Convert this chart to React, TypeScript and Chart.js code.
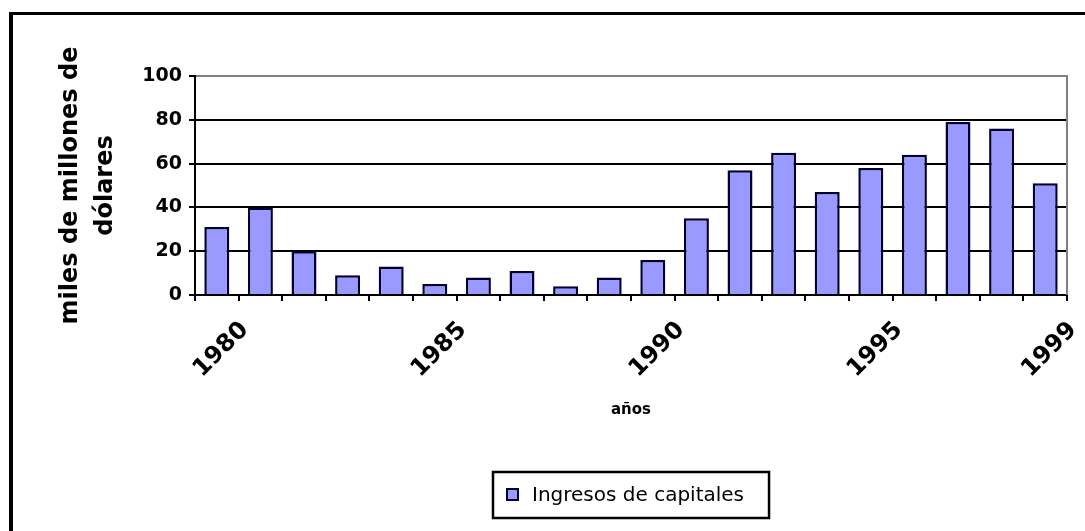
import { useEffect, useRef } from "react";
import { Chart, registerables } from "chart.js";

Chart.register(...registerables);

const years = [
  "1980", "1981", "1982", "1983", "1984", "1985", "1986", "1987", "1988", "1989",
  "1990", "1991", "1992", "1993", "1994", "1995", "1996", "1997", "1998", "1999",
];
const shownYearLabels = ["1980", "1985", "1990", "1995", "1999"];
const capitalInflows = [31, 40, 20, 9, 13, 5, 8, 11, 4, 8, 16, 35, 57, 65, 47, 58, 64, 79, 76, 51];
const seriesLabel = "Ingresos de capitales";
const yAxisTitle = ["miles de millones de", "dólares"];
const xAxisTitle = "años";
const yMin = 0;
const yMax = 100;
const yStep = 20;

const FONT = '"DejaVu Sans", sans-serif';

const excelPlugin = {
  id: "excelLook",
  beforeDatasetsDraw(chart: any) {
    const { ctx, chartArea } = chart;
    ctx.save();
    ctx.strokeStyle = "#808080";
    ctx.lineWidth = 2;
    ctx.beginPath();
    ctx.moveTo(chartArea.right, chartArea.top - 1);
    ctx.lineTo(chartArea.right, chartArea.bottom);
    ctx.stroke();
    ctx.restore();
  },
  afterDraw(chart: any) {
    const { ctx, chartArea } = chart;
    const ds = chart.data.datasets[0];
    ctx.save();
    ctx.font = `20px ${FONT}`;
    const tw = ctx.measureText(ds.label).width;
    const w = 39 + tw + 25;
    const h = 46;
    const cx = (chartArea.left + chartArea.right) / 2;
    const left = Math.round(cx - w / 2);
    const top = Math.round(chartArea.bottom + 177);
    ctx.fillStyle = "#ffffff";
    ctx.fillRect(left, top, w, h);
    ctx.strokeStyle = "#000000";
    ctx.lineWidth = 2.5;
    ctx.strokeRect(left, top, w, h);
    // symbol
    ctx.fillStyle = ds.backgroundColor;
    ctx.fillRect(left + 14, top + 17, 11, 11);
    ctx.strokeStyle = ds.borderColor;
    ctx.lineWidth = 2;
    ctx.strokeRect(left + 14, top + 17, 11, 11);
    ctx.fillStyle = "#000000";
    ctx.textBaseline = "middle";
    ctx.textAlign = "left";
    ctx.fillText(ds.label, left + 39, top + h / 2 + 1);
    ctx.restore();
  },
};

export default function App() {
  const ref = useRef<HTMLCanvasElement>(null);

  useEffect(() => {
    const chart = new Chart(ref.current!, {
      type: "bar",
      data: {
        labels: years,
        datasets: [
          {
            label: seriesLabel,
            data: capitalInflows,
            backgroundColor: "#9999FF",
            borderColor: "#000033",
            borderWidth: 2.5,
            borderSkipped: "bottom",
            barPercentage: 0.573,
            categoryPercentage: 1,
          },
        ],
      },
      options: {
        responsive: false,
        animation: false,
        devicePixelRatio: 1,
        layout: { padding: { left: 0, top: 61, right: 18, bottom: 106 } },
        plugins: {
          legend: { display: false },
          tooltip: { enabled: false },
          title: { display: false },
        },
        scales: {
          x: {
            afterFit: (scale: any) => {
              scale.height = 130;
            },
            grid: {
              display: true,
              drawOnChartArea: false,
              drawTicks: true,
              tickLength: 6,
              color: "#000000",
              lineWidth: 2,
              offset: true,
            },
            border: { display: true, color: "#000000", width: 2 },
            ticks: {
              autoSkip: false,
              minRotation: 45,
              maxRotation: 45,
              padding: 15,
              labelOffset: 28,
              color: "#000000",
              font: { family: FONT, size: 24, weight: "bold" },
              callback: (_v: any, i: number) =>
                shownYearLabels.includes(years[i]) ? years[i] : "",
            },
            title: {
              display: true,
              text: xAxisTitle,
              color: "#000000",
              font: { family: FONT, size: 15, weight: "bold", lineHeight: 1.2 },
              padding: { top: 0, bottom: 6 },
            },
          },
          y: {
            min: yMin,
            max: yMax,
            afterFit: (scale: any) => {
              scale.width = 182;
            },
            grid: {
              color: (c: any) => (c.tick && c.tick.value === yMax ? "#808080" : "#000000"),
              tickColor: "#000000",
              lineWidth: 2,
              tickLength: 6,
              drawTicks: true,
            },
            border: { display: true, color: "#000000", width: 2 },
            ticks: {
              stepSize: yStep,
              padding: 7,
              color: "#000000",
              font: { family: FONT, size: 19, weight: "bold" },
            },
            title: {
              display: true,
              text: yAxisTitle,
              color: "#000000",
              font: { family: FONT, size: 24, weight: "bold", lineHeight: 1.458 },
              padding: { top: 40, bottom: 0 },
            },
          },
        },
      },
      plugins: [excelPlugin],
    });
    return () => chart.destroy();
  }, []);

  return (
    <div
      style={{
        position: "fixed",
        left: 0,
        top: 0,
        width: 1085,
        height: 531,
        background: "#ffffff",
        overflow: "hidden",
      }}
    >
      <div
        style={{
          position: "absolute",
          left: 9,
          top: 12,
          right: -10,
          bottom: -10,
          borderLeft: "4px solid #000",
          borderTop: "3px solid #000",
        }}
      >
        <canvas ref={ref} width={1072} height={516} style={{ display: "block", width: 1072, height: 516 }} />
      </div>
    </div>
  );
}
